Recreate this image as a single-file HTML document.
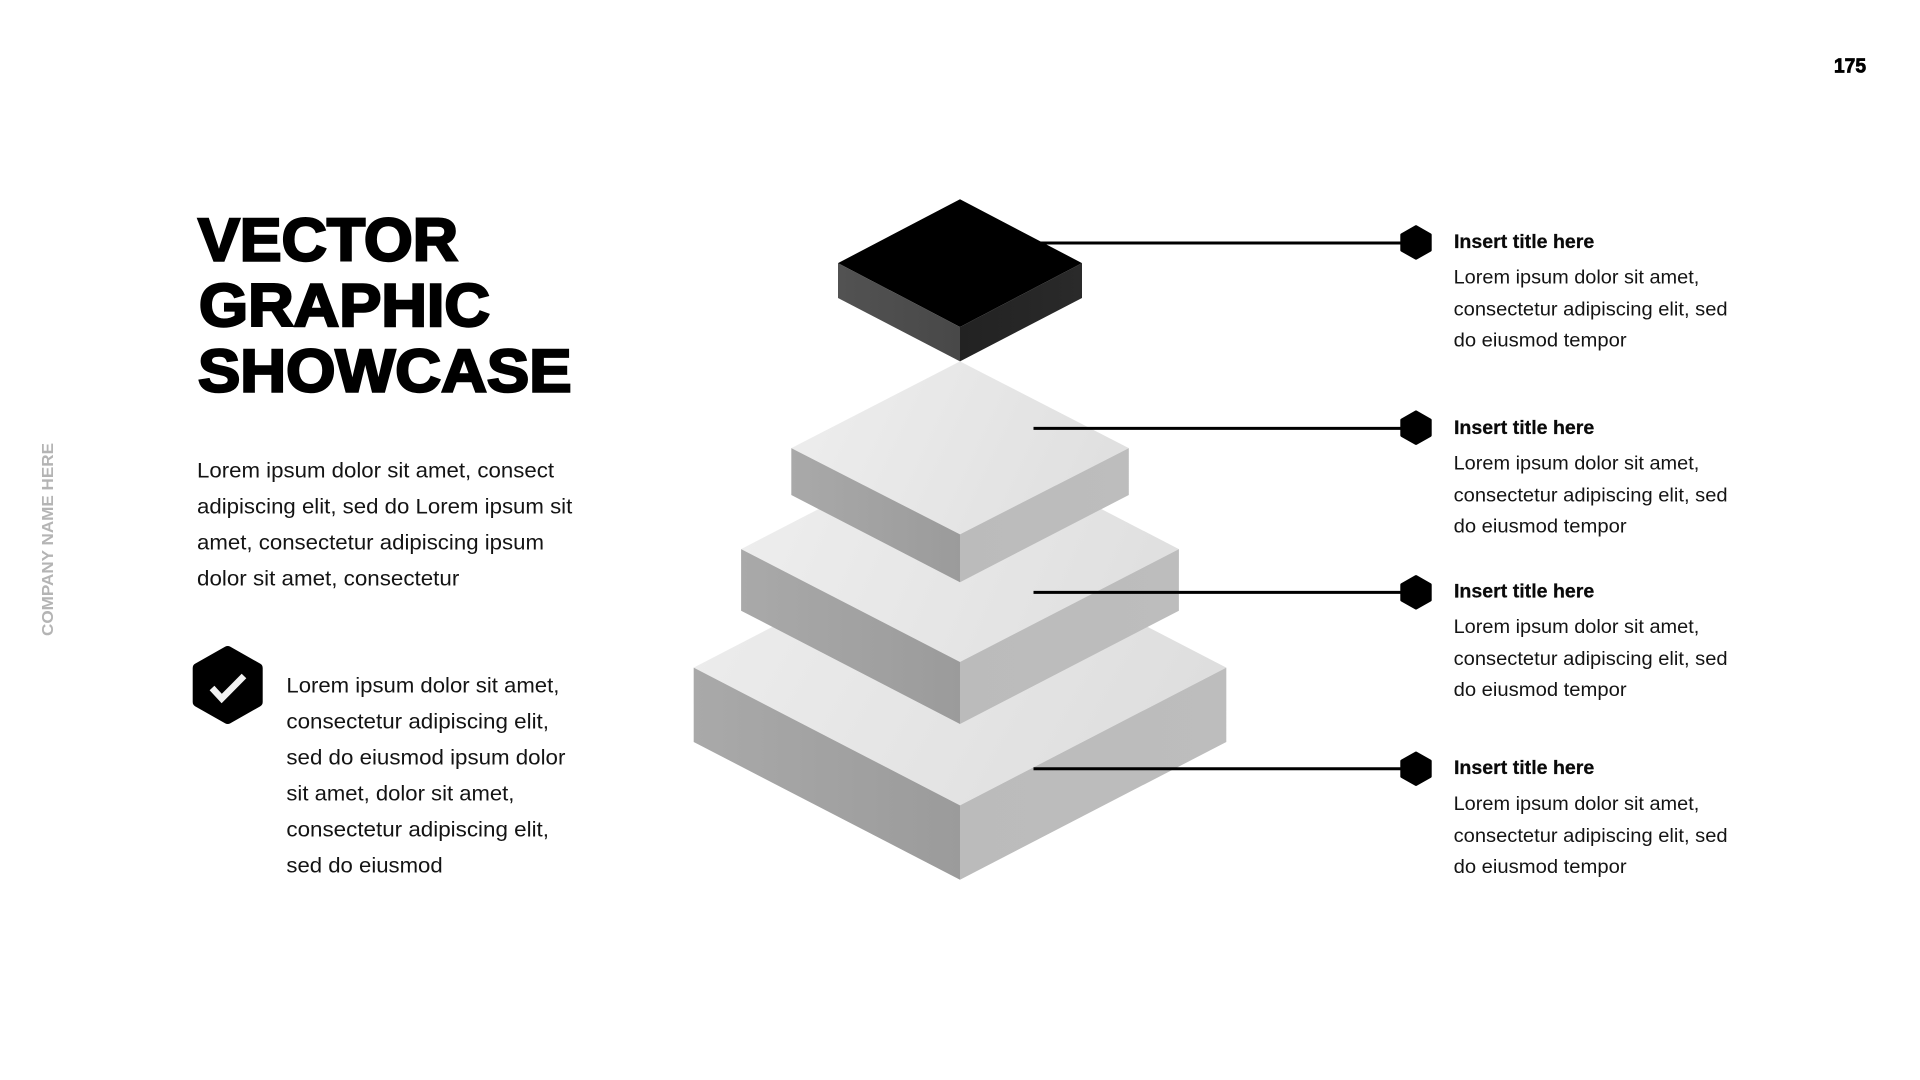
<!DOCTYPE html>
<html>
<head>
<meta charset="utf-8">
<style>
html,body{margin:0;padding:0;background:#fff;width:1920px;height:1080px;overflow:hidden}
svg{display:block}
text{font-family:"Liberation Sans",sans-serif;white-space:pre}
.b{font-size:21.5px;fill:#141414}
.s{font-size:19px;fill:#141414}
.t{font-size:19px;font-weight:bold;fill:#0a0a0a;stroke:#0a0a0a;stroke-width:.25px}
.h{font-size:60px;font-weight:bold;fill:#000;stroke:#000;stroke-width:2.4px}
</style>
</head>
<body>
<svg width="1920" height="1080" viewBox="0 0 1920 1080" xmlns="http://www.w3.org/2000/svg">
<defs>
<linearGradient id="top" gradientUnits="userSpaceOnUse" x1="694" y1="500" x2="1226" y2="800"><stop offset="0" stop-color="#eeeeee"/><stop offset="1" stop-color="#dcdcdc"/></linearGradient>
<linearGradient id="top2" gradientUnits="userSpaceOnUse" x1="791" y1="370" x2="1129" y2="530"><stop offset="0" stop-color="#eeeeee"/><stop offset="1" stop-color="#dedede"/></linearGradient>
<linearGradient id="top3" gradientUnits="userSpaceOnUse" x1="741" y1="470" x2="1179" y2="660"><stop offset="0" stop-color="#eeeeee"/><stop offset="1" stop-color="#dedede"/></linearGradient>
<linearGradient id="lf" x1="0" y1="0" x2="1" y2="0"><stop offset="0" stop-color="#a9a9a9"/><stop offset="1" stop-color="#9b9b9b"/></linearGradient>
<linearGradient id="rt" x1="0" y1="0" x2="1" y2="0"><stop offset="0" stop-color="#bbbbbb"/><stop offset="1" stop-color="#bdbdbd"/></linearGradient>
<linearGradient id="blf" x1="0" y1="0" x2="1" y2="0"><stop offset="0" stop-color="#525252"/><stop offset="1" stop-color="#484848"/></linearGradient>
<linearGradient id="brt" x1="0" y1="0" x2="1" y2="0"><stop offset="0" stop-color="#222222"/><stop offset="1" stop-color="#2a2a2a"/></linearGradient>
</defs>

<!-- layer 4 -->
<polygon points="693.7,667.6 960,529.8 1226.3,667.6 960,805.4" fill="url(#top)"/>
<polygon points="693.7,667.6 960,805.4 960,879.7 693.7,742" fill="url(#lf)"/>
<polygon points="1226.3,667.6 960,805.4 960,879.7 1226.3,742" fill="url(#rt)"/>
<!-- layer 3 -->
<polygon points="741.1,549.1 960,436 1178.9,549.1 960,662" fill="url(#top3)"/>
<polygon points="741.1,549.1 960,662 960,724 741.1,610.7" fill="url(#lf)"/>
<polygon points="1178.9,549.1 960,662 960,724 1178.9,610.7" fill="url(#rt)"/>
<!-- layer 2 -->
<polygon points="791.3,448.1 960,361.4 1128.8,448.1 960,534.4" fill="url(#top2)"/>
<polygon points="791.3,448.1 960,534.4 960,582.2 791.3,495" fill="url(#lf)"/>
<polygon points="1128.8,448.1 960,534.4 960,582.2 1128.8,495" fill="url(#rt)"/>
<!-- black layer -->
<polygon points="838,263.1 960,199.3 1082,263.1 960,327" fill="#000"/>
<polygon points="838,263.1 960,327 960,361.4 838,298" fill="url(#blf)"/>
<polygon points="1082,263.1 960,327 960,361.4 1082,298" fill="url(#brt)"/>

<!-- connectors -->
<g stroke="#000" stroke-width="3">
<line x1="1040" y1="243" x2="1410" y2="243"/>
<line x1="1033.5" y1="428.4" x2="1410" y2="428.4"/>
<line x1="1033.5" y1="592.4" x2="1410" y2="592.4"/>
<line x1="1033.5" y1="768.8" x2="1410" y2="768.8"/>
</g>
<g fill="#000" stroke="#000" stroke-width="3" stroke-linejoin="round">
<polygon points="1416,226.7 1430.2,234.8 1430.2,250.2 1416,258.2 1401.8,250.2 1401.8,234.8"/>
<polygon points="1416,411.9 1430.2,420 1430.2,435.4 1416,443.4 1401.8,435.4 1401.8,420"/>
<polygon points="1416,576.6 1430.2,584.7 1430.2,600.1 1416,608.1 1401.8,600.1 1401.8,584.7"/>
<polygon points="1416,753 1430.2,761.1 1430.2,776.5 1416,784.5 1401.8,776.5 1401.8,761.1"/>
</g>

<!-- page number & sidebar -->
<text x="1834" y="72.5" font-size="20" font-weight="bold" fill="#000" stroke="#000" stroke-width=".8" textLength="32" lengthAdjust="spacingAndGlyphs">175</text>
<text transform="translate(53,636) rotate(-90)" font-size="15.5" font-weight="bold" fill="#b4b4b4" textLength="193" lengthAdjust="spacingAndGlyphs">COMPANY NAME HERE</text>

<!-- title -->
<text class="h" x="198" y="260.5" textLength="260" lengthAdjust="spacingAndGlyphs">VECTOR</text>
<text class="h" x="199" y="326" textLength="291" lengthAdjust="spacingAndGlyphs">GRAPHIC</text>
<text class="h" x="198" y="391.5" textLength="373.5" lengthAdjust="spacingAndGlyphs">SHOWCASE</text>

<!-- intro -->
<text class="b" x="197" y="477.3" textLength="357" lengthAdjust="spacingAndGlyphs">Lorem ipsum dolor sit amet, consect</text>
<text class="b" x="197" y="513.3" textLength="375.3" lengthAdjust="spacingAndGlyphs">adipiscing elit, sed do Lorem ipsum sit</text>
<text class="b" x="197" y="549.3" textLength="347" lengthAdjust="spacingAndGlyphs">amet, consectetur adipiscing ipsum</text>
<text class="b" x="197" y="585.3" textLength="262.3" lengthAdjust="spacingAndGlyphs">dolor sit amet, consectetur</text>

<!-- check badge -->
<polygon points="227.7,651 257.7,668 257.7,702 227.7,719 197.7,702 197.7,668" fill="#000" stroke="#000" stroke-width="10" stroke-linejoin="round"/>
<polyline points="212,688 221.7,698.5 244,676" fill="none" stroke="#f2f2f2" stroke-width="6.5"/>

<text class="b" x="286.4" y="692.3" textLength="273" lengthAdjust="spacingAndGlyphs">Lorem ipsum dolor sit amet,</text>
<text class="b" x="286.4" y="728.3" textLength="262.6" lengthAdjust="spacingAndGlyphs">consectetur adipiscing elit,</text>
<text class="b" x="286.4" y="764.3" textLength="279" lengthAdjust="spacingAndGlyphs">sed do eiusmod ipsum dolor</text>
<text class="b" x="286.4" y="800.3" textLength="228" lengthAdjust="spacingAndGlyphs">sit amet, dolor sit amet,</text>
<text class="b" x="286.4" y="836.3" textLength="262.6" lengthAdjust="spacingAndGlyphs">consectetur adipiscing elit,</text>
<text class="b" x="286.4" y="872.3" textLength="156.3" lengthAdjust="spacingAndGlyphs">sed do eiusmod</text>

<!-- right column -->
<text class="t" x="1454" y="248" textLength="140.3" lengthAdjust="spacingAndGlyphs">Insert title here</text>
<text class="s" x="1453.6" y="283.5" textLength="245.7" lengthAdjust="spacingAndGlyphs">Lorem ipsum dolor sit amet,</text>
<text class="s" x="1453.6" y="315.5" textLength="274" lengthAdjust="spacingAndGlyphs">consectetur adipiscing elit, sed</text>
<text class="s" x="1453.6" y="346.7" textLength="173" lengthAdjust="spacingAndGlyphs">do eiusmod tempor</text>

<text class="t" x="1454" y="433.9" textLength="140.3" lengthAdjust="spacingAndGlyphs">Insert title here</text>
<text class="s" x="1453.6" y="469.3" textLength="245.7" lengthAdjust="spacingAndGlyphs">Lorem ipsum dolor sit amet,</text>
<text class="s" x="1453.6" y="501.3" textLength="274" lengthAdjust="spacingAndGlyphs">consectetur adipiscing elit, sed</text>
<text class="s" x="1453.6" y="532.5" textLength="173" lengthAdjust="spacingAndGlyphs">do eiusmod tempor</text>

<text class="t" x="1454" y="597.5" textLength="140.3" lengthAdjust="spacingAndGlyphs">Insert title here</text>
<text class="s" x="1453.6" y="633" textLength="245.7" lengthAdjust="spacingAndGlyphs">Lorem ipsum dolor sit amet,</text>
<text class="s" x="1453.6" y="665" textLength="274" lengthAdjust="spacingAndGlyphs">consectetur adipiscing elit, sed</text>
<text class="s" x="1453.6" y="696.2" textLength="173" lengthAdjust="spacingAndGlyphs">do eiusmod tempor</text>

<text class="t" x="1454" y="774.2" textLength="140.3" lengthAdjust="spacingAndGlyphs">Insert title here</text>
<text class="s" x="1453.6" y="809.8" textLength="245.7" lengthAdjust="spacingAndGlyphs">Lorem ipsum dolor sit amet,</text>
<text class="s" x="1453.6" y="841.8" textLength="274" lengthAdjust="spacingAndGlyphs">consectetur adipiscing elit, sed</text>
<text class="s" x="1453.6" y="873" textLength="173" lengthAdjust="spacingAndGlyphs">do eiusmod tempor</text>
</svg>
</body>
</html>
